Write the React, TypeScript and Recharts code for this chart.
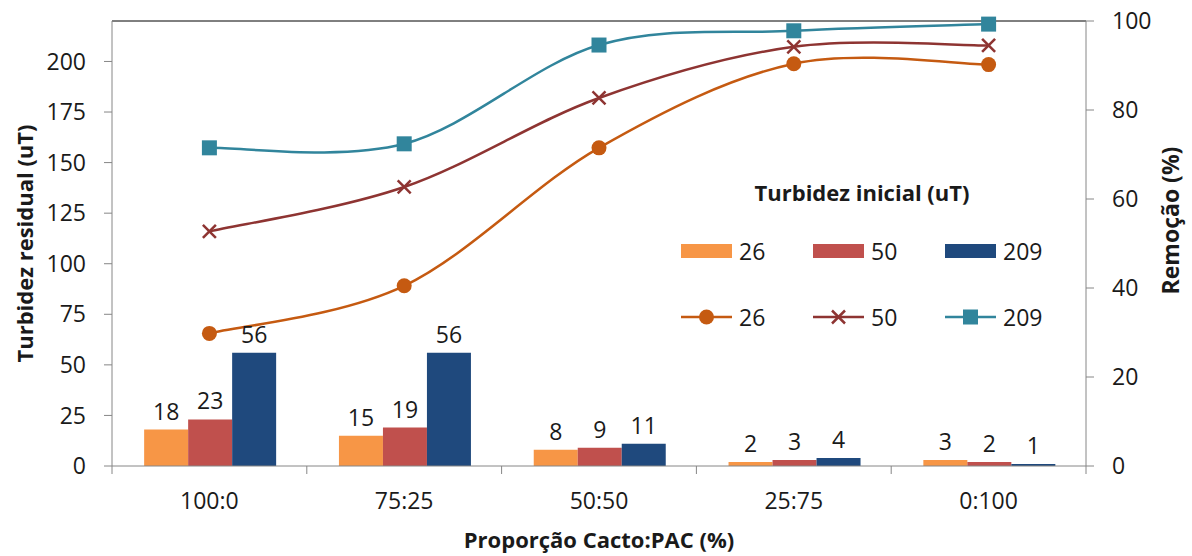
import React from 'react'
import {
  ComposedChart,
  Bar,
  Line,
  XAxis,
  YAxis,
  LabelList,
  Legend,
  ReferenceLine,
} from 'recharts'

const CATEGORIES = ['100:0', '75:25', '50:50', '25:75', '0:100']

// residual turbidity (uT) for each initial turbidity
const RESIDUAL_26 = [18, 15, 8, 2, 3]
const RESIDUAL_50 = [23, 19, 9, 3, 2]
const RESIDUAL_209 = [56, 56, 11, 4, 1]

// removal (%) for each initial turbidity
const REMOVAL_26 = [29.8, 40.5, 71.5, 90.4, 90.2]
const REMOVAL_50 = [52.7, 62.7, 82.7, 94.2, 94.5]
const REMOVAL_209 = [71.5, 72.4, 94.6, 97.8, 99.3]

const LEFT_TICKS = [0, 25, 50, 75, 100, 125, 150, 175, 200]
const RIGHT_TICKS = [0, 20, 40, 60, 80, 100]

const SERIES_LABELS = ['26', '50', '209']

const BAR_COLORS = ['#F79646', '#C0504D', '#1F497D']
const LINE_COLORS = ['#C55A11', '#8E3432', '#31859C']

const FONT = '"Open Sans", "Noto Sans", sans-serif'
const TEXT = '#1a1a1a'
const AXIS = '#868686'
const NUM_SIZE = 23
const TITLE_SIZE = 22

const TICK_SIZE = 8
const X_TICK_MARGIN = 19

const chartData = CATEGORIES.map((cat, i) => ({
  cat,
  r26: RESIDUAL_26[i],
  r50: RESIDUAL_50[i],
  r209: RESIDUAL_209[i],
  m26: REMOVAL_26[i],
  m50: REMOVAL_50[i],
  m209: REMOVAL_209[i],
}))

// Excel-like smoothing (Catmull-Rom through the points)
const excelSmooth = (context: any) => {
  let pts: [number, number][] = []
  return {
    areaStart() {},
    areaEnd() {},
    lineStart() {
      pts = []
    },
    lineEnd() {
      const n = pts.length
      if (!n) return
      context.moveTo(pts[0][0], pts[0][1])
      for (let i = 0; i < n - 1; i++) {
        const p0 = pts[Math.max(0, i - 1)]
        const p1 = pts[i]
        const p2 = pts[i + 1]
        const p3 = pts[Math.min(n - 1, i + 2)]
        context.bezierCurveTo(
          p1[0] + (p2[0] - p0[0]) / 6,
          p1[1] + (p2[1] - p0[1]) / 6,
          p2[0] - (p3[0] - p1[0]) / 6,
          p2[1] - (p3[1] - p1[1]) / 6,
          p2[0],
          p2[1],
        )
      }
    },
    point(x: number, y: number) {
      pts.push([+x, +y])
    },
  }
}

const CircleDot = (p: any) => (
  <circle key={`c-${p.index}`} cx={p.cx} cy={p.cy} r={7.5} fill={LINE_COLORS[0]} />
)

const CrossDot = (p: any) => (
  <g key={`x-${p.index}`} stroke={LINE_COLORS[1]} strokeWidth={2.5}>
    <line x1={p.cx - 6.5} y1={p.cy - 6.5} x2={p.cx + 6.5} y2={p.cy + 6.5} />
    <line x1={p.cx - 6.5} y1={p.cy + 6.5} x2={p.cx + 6.5} y2={p.cy - 6.5} />
  </g>
)

const SquareDot = (p: any) => (
  <rect key={`s-${p.index}`} x={p.cx - 7.5} y={p.cy - 7.5} width={15} height={15} fill={LINE_COLORS[2]} />
)

const CategoryTick = (props: any) => {
  const { x, y, payload, index, visibleTicksCount } = props
  const half = payload?.offset ?? 0
  const axisY = y - TICK_SIZE - X_TICK_MARGIN
  const isLast = index === visibleTicksCount - 1
  return (
    <g>
      <line x1={x - half} x2={x - half} y1={axisY} y2={axisY + TICK_SIZE} stroke={AXIS} />
      {isLast && (
        <line x1={x + half} x2={x + half} y1={axisY} y2={axisY + TICK_SIZE} stroke={AXIS} />
      )}
      <text x={x} y={y} dy="0.71em" textAnchor="middle" fill={TEXT} fontSize={NUM_SIZE} fontFamily={FONT}>
        {payload.value}
      </text>
    </g>
  )
}

const verticalTitle = (text: string, side: 'left' | 'right', size: number, shift: number) => (props: any) => {
  const vb = props.viewBox
  const cx = side === 'left' ? vb.x + 24 : vb.x + vb.width - 22
  const cy = vb.y + vb.height / 2 + shift
  return (
    <text
      x={cx}
      y={cy}
      transform={`rotate(-90 ${cx} ${cy})`}
      textAnchor="middle"
      dominantBaseline="central"
      fontFamily={FONT}
      fontWeight="bold"
      fontSize={size}
      fill={TEXT}
    >
      {text}
    </text>
  )
}

const bottomTitle = (props: any) => {
  const vb = props.viewBox
  return (
    <text
      x={vb.x + vb.width / 2}
      y={vb.y + vb.height - 8}
      textAnchor="middle"
      fontFamily={FONT}
      fontWeight="bold"
      fontSize={TITLE_SIZE}
      fill={TEXT}
    >
      Proporção Cacto:PAC (%)
    </text>
  )
}

const LineSample = ({ i }: { i: number }) => (
  <svg width={51} height={16} style={{ display: 'block' }}>
    <line x1={0} x2={51} y1={8} y2={8} stroke={LINE_COLORS[i]} strokeWidth={2.5} />
    {i === 0 && <circle cx={25.5} cy={8} r={7.5} fill={LINE_COLORS[0]} />}
    {i === 1 && (
      <g stroke={LINE_COLORS[1]} strokeWidth={2.5}>
        <line x1={19} y1={1.5} x2={32} y2={14.5} />
        <line x1={19} y1={14.5} x2={32} y2={1.5} />
      </g>
    )}
    {i === 2 && <rect x={18} y={0.5} width={15} height={15} fill={LINE_COLORS[2]} />}
  </svg>
)

const LegendBox = () => (
  <div style={{ fontFamily: FONT, color: TEXT, width: 400 }}>
    <div style={{ fontWeight: 'bold', fontSize: TITLE_SIZE, lineHeight: '26px', textAlign: 'center', width: 362 }}>
      Turbidez inicial (uT)
    </div>
    <div style={{ display: 'flex', marginTop: 33, height: 26 }}>
      {SERIES_LABELS.map((s, i) => (
        <div key={s} style={{ display: 'flex', alignItems: 'center', width: 132 }}>
          <div style={{ width: 51, height: 14, background: BAR_COLORS[i] }} />
          <span style={{ marginLeft: 7, fontSize: NUM_SIZE, lineHeight: '26px' }}>{s}</span>
        </div>
      ))}
    </div>
    <div style={{ display: 'flex', marginTop: 40, height: 26 }}>
      {SERIES_LABELS.map((s, i) => (
        <div key={s} style={{ display: 'flex', alignItems: 'center', width: 132 }}>
          <LineSample i={i} />
          <span style={{ marginLeft: 7, fontSize: NUM_SIZE, lineHeight: '26px' }}>{s}</span>
        </div>
      ))}
    </div>
  </div>
)

const tickStyle = { fill: TEXT, fontSize: NUM_SIZE, fontFamily: FONT }
const labelStyle = { fill: TEXT, fontSize: NUM_SIZE, fontFamily: FONT }

export default function App() {
  return (
    <div style={{ position: 'absolute', left: 0, top: 0, width: 1192, height: 556, background: '#fff' }}>
      <ComposedChart
        width={1192}
        height={556}
        data={chartData}
        margin={{ top: 21, right: 0, bottom: 0, left: 0 }}
        barCategoryGap="16.5%"
        barGap={0}
      >
        <XAxis
          dataKey="cat"
          height={90}
          stroke={AXIS}
          tickSize={TICK_SIZE}
          tickMargin={X_TICK_MARGIN}
          tickLine={false}
          tick={<CategoryTick />}
          interval={0}
          label={{ content: bottomTitle }}
        />
        <YAxis
          yAxisId="left"
          width={112}
          domain={[0, 220]}
          ticks={LEFT_TICKS}
          stroke={AXIS}
          tickSize={TICK_SIZE}
          tickMargin={18}
          tick={tickStyle}
          allowDataOverflow
          label={{ content: verticalTitle('Turbidez residual (uT)', 'left', TITLE_SIZE, 0) }}
        />
        <YAxis
          yAxisId="right"
          orientation="right"
          width={106}
          domain={[0, 100]}
          ticks={RIGHT_TICKS}
          stroke={AXIS}
          tickSize={TICK_SIZE}
          tickMargin={18}
          tick={tickStyle}
          label={{ content: verticalTitle('Remoção (%)', 'right', 23, -23) }}
        />
        <ReferenceLine yAxisId="left" y={220} stroke="#000" strokeWidth={1} />
        <Bar yAxisId="left" dataKey="r26" fill={BAR_COLORS[0]} isAnimationActive={false}>
          <LabelList dataKey="r26" position="top" offset={10} style={labelStyle} />
        </Bar>
        <Bar yAxisId="left" dataKey="r50" fill={BAR_COLORS[1]} isAnimationActive={false}>
          <LabelList dataKey="r50" position="top" offset={10} style={labelStyle} />
        </Bar>
        <Bar yAxisId="left" dataKey="r209" fill={BAR_COLORS[2]} isAnimationActive={false}>
          <LabelList dataKey="r209" position="top" offset={10} style={labelStyle} />
        </Bar>
        <Line
          yAxisId="right"
          dataKey="m26"
          type={excelSmooth as any}
          stroke={LINE_COLORS[0]}
          strokeWidth={2.5}
          dot={CircleDot}
          activeDot={false}
          isAnimationActive={false}
        />
        <Line
          yAxisId="right"
          dataKey="m50"
          type={excelSmooth as any}
          stroke={LINE_COLORS[1]}
          strokeWidth={2.5}
          dot={CrossDot}
          activeDot={false}
          isAnimationActive={false}
        />
        <Line
          yAxisId="right"
          dataKey="m209"
          type={excelSmooth as any}
          stroke={LINE_COLORS[2]}
          strokeWidth={2.5}
          dot={SquareDot}
          activeDot={false}
          isAnimationActive={false}
        />
        <Legend
          layout="horizontal"
          verticalAlign="middle"
          align="center"
          wrapperStyle={{ left: 681, top: 179, width: 400 }}
          content={() => <LegendBox />}
        />
      </ComposedChart>
    </div>
  )
}
